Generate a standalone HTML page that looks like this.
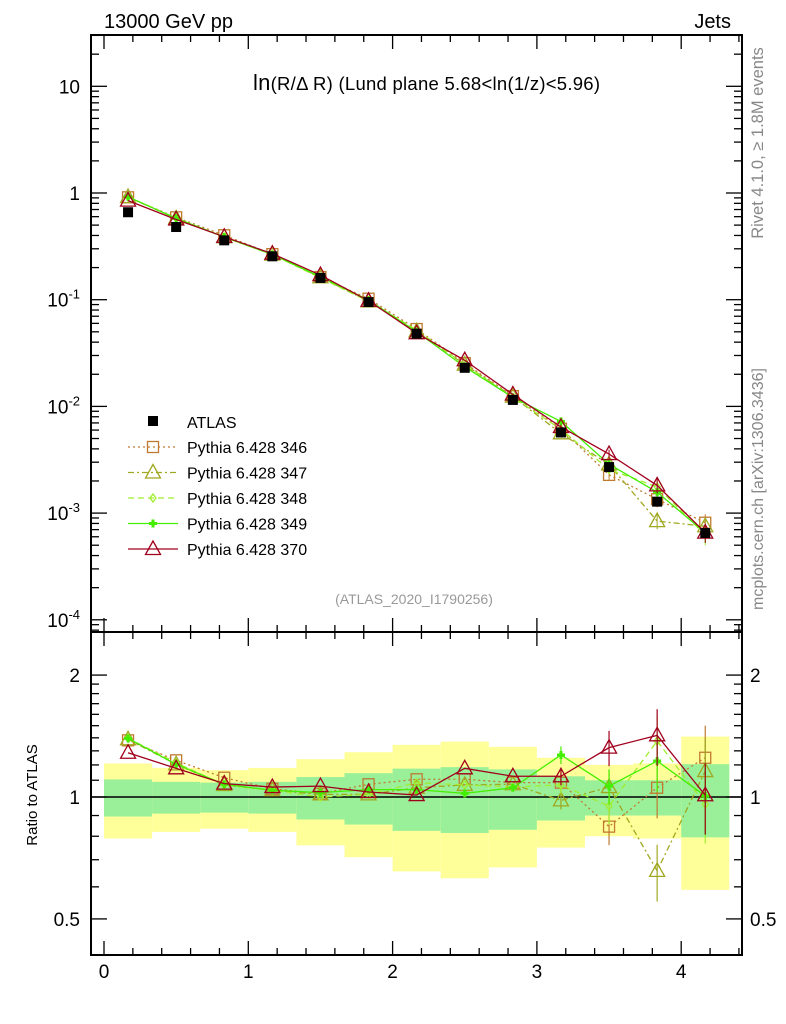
<!DOCTYPE html>
<html><head><meta charset="utf-8"><style>
body{margin:0;background:#fff;}
svg{display:block;font-family:"Liberation Sans",sans-serif;}
</style></head><body>
<svg id="c" width="786" height="1024" xmlns="http://www.w3.org/2000/svg"></svg>
<script>
const binEdges=[0,1/3,2/3,1,4/3,5/3,2,7/3,8/3,3,10/3,11/3,4,13/3];
const atlas=[0.66,0.48,0.36,0.255,0.16,0.095,0.048,0.023,0.0115,0.0057,0.0027,0.00128,0.00065];
const bandTotal=[0.21,0.18,0.165,0.18,0.24,0.29,0.345,0.37,0.33,0.25,0.2,0.21,0.41];
const bandStat=[0.105,0.09,0.085,0.09,0.12,0.145,0.175,0.185,0.17,0.125,0.1,0.1,0.205];
const r346=[1.38,1.232,1.116,1.048,1.019,1.075,1.106,1.106,1.085,1.085,0.845,1.054,1.25];
const r347=[1.388,1.204,1.071,1.039,1.015,1.015,1.054,1.071,1.075,0.981,1.058,0.657,1.159];
const r348=[1.396,1.215,1.071,1.039,1.0,1.015,1.085,1.071,1.058,1.071,0.95,1.375,0.959];
const r349=[1.396,1.204,1.075,1.039,1.025,1.043,1.043,1.021,1.054,1.27,1.064,1.227,1.006];
const r370=[1.286,1.177,1.079,1.058,1.064,1.029,1.011,1.177,1.125,1.125,1.324,1.42,1.01];
const mcErr=[0.01,0.01,0.01,0.01,0.01,0.01,0.015,0.02,0.03,0.05,0.1,0.16,0.2];
const xTicks=[0,1,2,3,4];
const yExp=[1,0,-1,-2,-3,-4];
const rTicks=[0.5,1,2];

const NS="http://www.w3.org/2000/svg";
const svg=document.getElementById('c');
const L=91,R=742,T=35,MB=632,RB=955;
const X=v=>104+144.3*v;
const Y=v=>193-106.7*Math.log10(v);
const RY=v=>797-405*Math.log10(v);
function el(tag,a,parent){const e=document.createElementNS(NS,tag);for(const k in a)e.setAttribute(k,a[k]);(parent||svg).appendChild(e);return e;}
function txt(s,a,parent){const e=el('text',a,parent);e.textContent=s;return e;}

const bands=el('g',{});


for(let i=0;i<atlas.length;i++){
  const x0=X(binEdges[i]),x1=X(binEdges[i+1]);
  const r=el('rect',{x:x0,y:RY(1+bandTotal[i]),width:x1-x0,height:RY(1-bandTotal[i])-RY(1+bandTotal[i]),fill:'#ffff99'},bands);
  
  
  const g=el('rect',{x:x0,y:RY(1+bandStat[i]),width:x1-x0,height:RY(1-bandStat[i])-RY(1+bandStat[i]),fill:'#99f099'},bands);
  
  
}
el('line',{x1:L,x2:R,y1:RY(1),y2:RY(1),stroke:'#000','stroke-width':1.5});

const centers=atlas.map((_,i)=>(binEdges[i]+binEdges[i+1])/2);
const series=[
 {n:'346',r:r346,c:'#c07a30',d:'2,3',m:'sq'},
 {n:'347',r:r347,c:'#a0a820',d:'6,3,2,3',m:'tri'},
 {n:'348',r:r348,c:'#a0ee30',d:'6,4',m:'dia'},
 {n:'349',r:r349,c:'#44ee00',d:'',m:'cross'},
 {n:'370',r:r370,c:'#a0001c',d:'',m:'tri'}];
function marker(g,m,x,y,c){
  if(m==='sq')el('rect',{x:x-5.5,y:y-5.5,width:11,height:11,fill:'none',stroke:c,'stroke-width':1.3},g);
  else if(m==='tri')el('polygon',{points:`${x},${y-8} ${x-7.5},${y+5.5} ${x+7.5},${y+5.5}`,fill:'none',stroke:c,'stroke-width':1.3},g);
  else if(m==='dia')el('polygon',{points:`${x},${y-4} ${x-3},${y} ${x},${y+4} ${x+3},${y}`,fill:'none',stroke:c,'stroke-width':1.3},g);
  else if(m==='cross')el('path',{d:`M${x-4},${y}H${x+4}M${x},${y-4}V${y+4}`,stroke:c,'stroke-width':3},g);
}
series.forEach(s=>{
  const g=el('g',{});
  
  
  const vals=s.r.map((r,i)=>r*atlas[i]);
  el('polyline',{points:vals.map((v,i)=>X(centers[i])+','+Y(v)).join(' '),fill:'none',stroke:s.c,'stroke-width':1.3,'stroke-dasharray':s.d},g);
  vals.forEach((v,i)=>{
    const e=mcErr[i];
    if(e>0.03)el('line',{x1:X(centers[i]),x2:X(centers[i]),y1:Y(v*(1+e)),y2:Y(v*(1-e)),stroke:s.c},g);
    marker(g,s.m,X(centers[i]),Y(v),s.c);
  });
  const h=el('g',{});
  
  
  el('polyline',{points:s.r.map((v,i)=>X(centers[i])+','+RY(v)).join(' '),fill:'none',stroke:s.c,'stroke-width':1.3,'stroke-dasharray':s.d},h);
  s.r.forEach((v,i)=>{
    const e=mcErr[i];
    if(e>0.03)el('line',{x1:X(centers[i]),x2:X(centers[i]),y1:RY(v*(1+e)),y2:RY(v*(1-e)),stroke:s.c,'stroke-width':1.2},h);
    marker(h,s.m,X(centers[i]),RY(v),s.c);
  });
});
const ag=el('g',{});


atlas.forEach((v,i)=>{el('rect',{x:X(centers[i])-5,y:Y(v)-5,width:10,height:10,fill:'#000'},ag);});

el('rect',{x:L,y:T,width:R-L,height:MB-T,fill:'none',stroke:'#000','stroke-width':2});
el('rect',{x:L,y:MB,width:R-L,height:RB-MB,fill:'none',stroke:'#000','stroke-width':2});
for(let v=0;v<=4.4001;v+=0.2){
  const x=X(v),maj=Math.abs(v-Math.round(v))<1e-6;const l=maj?14:7;
  if(x>R)break;
  [[T,1],[MB,-1],[MB,1],[RB,-1]].forEach(([y,d])=>el('line',{x1:x,x2:x,y1:y,y2:y+d*l,stroke:'#000','stroke-width':1.3}));
}
xTicks.forEach(v=>{const t=txt(String(v),{x:X(v),y:978,'font-size':19,'text-anchor':'middle'});});
for(let e=-5;e<=1;e++)for(let k=1;k<10;k++){
  const v=k*Math.pow(10,e),y=Y(v);if(y<T||y>MB)continue;
  const l=k===1?16:8;
  el('line',{x1:L,x2:L+l,y1:y,y2:y,stroke:'#000','stroke-width':1.3});
  el('line',{x1:R,x2:R-l,y1:y,y2:y,stroke:'#000','stroke-width':1.3});
}
yExp.forEach(e=>{
  const y=Y(Math.pow(10,e));
  let t;
  if(e===1)t=txt('10',{x:80,y:y+7,'font-size':19,'text-anchor':'end'});
  else if(e===0)t=txt('1',{x:80,y:y+7,'font-size':19,'text-anchor':'end'});
  else{t=el('text',{x:80,y:y+7,'font-size':19,'text-anchor':'end'});
    const a=document.createElementNS(NS,'tspan');a.textContent='10';t.appendChild(a);
    const b=document.createElementNS(NS,'tspan');b.setAttribute('font-size','13');b.setAttribute('dy','-8');b.textContent=String(e);t.appendChild(b);}
  
});
[0.5,0.6,0.7,0.8,0.9,1,1.1,1.2,1.3,1.4,1.5,1.6,1.7,1.8,1.9,2].forEach(v=>{
  const y=RY(v),maj=(v===0.5||v===1||v===2),l=maj?16:8;
  el('line',{x1:L,x2:L+l,y1:y,y2:y,stroke:'#000','stroke-width':1.3});
  el('line',{x1:R,x2:R-l,y1:y,y2:y,stroke:'#000','stroke-width':1.3});
});
rTicks.forEach(v=>{
  const a=txt(String(v),{x:80,y:RY(v)+7,'font-size':19,'text-anchor':'end'});
  
  const b=txt(String(v),{x:750,y:RY(v)+7,'font-size':19});
  
});

const lg=el('g',{});


el('rect',{x:148,y:416,width:10,height:10,fill:'#000'},lg);
txt('ATLAS',{x:187,y:428,'font-size':16},lg);
series.forEach((s,i)=>{
  const y=447+25.5*i;
  el('line',{x1:128,x2:178,y1:y,y2:y,stroke:s.c,'stroke-width':1.3,'stroke-dasharray':s.d},lg);
  marker(lg,s.m,153,y,s.c);
  txt('Pythia 6.428 '+s.n,{x:187,y:y+6,'font-size':16},lg);
});
</script>
<svg width="786" height="1024" style="position:absolute;left:0;top:0" xmlns="http://www.w3.org/2000/svg" font-family="Liberation Sans, sans-serif">
<text x="104" y="28" font-size="20">13000 GeV pp</text>
<text x="731" y="28" font-size="20" text-anchor="end">Jets</text>
<text x="253" y="90" font-size="18.5" textLength="347"><tspan font-size="22">ln</tspan>(R/Δ R) (Lund plane 5.68&lt;ln(1/z)&lt;5.96)</text>
<text x="414" y="604" font-size="14" fill="#999" text-anchor="middle">(ATLAS_2020_I1790256)</text>
<text transform="translate(763,143) rotate(-90)" font-size="16.5" fill="#888" text-anchor="middle">Rivet 4.1.0, ≥ 1.8M events</text>
<text transform="translate(763,489) rotate(-90)" font-size="16" fill="#888" text-anchor="middle">mcplots.cern.ch [arXiv:1306.3436]</text>
<text transform="translate(37,795) rotate(-90)" font-size="15" text-anchor="middle">Ratio to ATLAS</text>
</svg>
</body></html>
